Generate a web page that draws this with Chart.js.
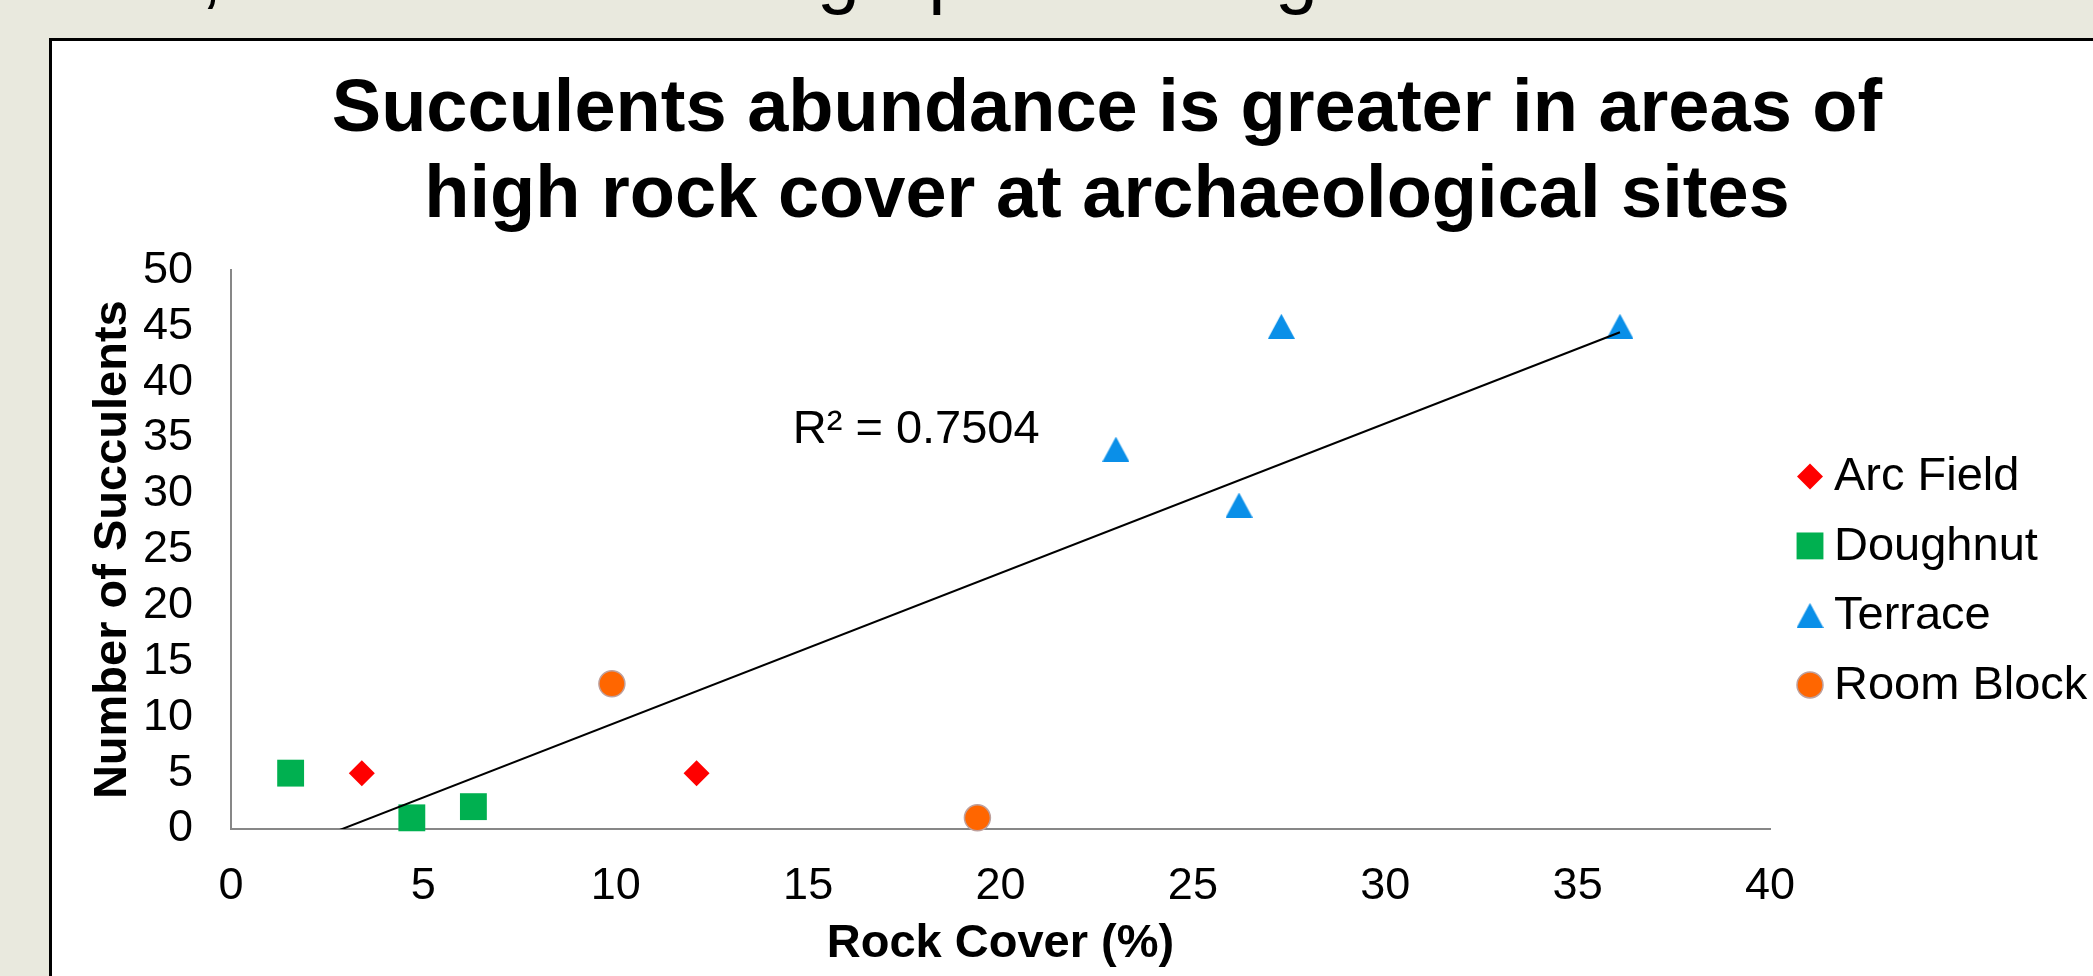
<!DOCTYPE html>
<html>
<head>
<meta charset="utf-8">
<script src="https://cdn.jsdelivr.net/npm/chart.js@4.4.0/dist/chart.umd.min.js"></script>
<style>
  html, body { margin: 0; padding: 0; width: 2093px; height: 976px; overflow: hidden; background: #e9e9de; }
  #lead { position: absolute; left: -56px; top: -66px; font: 77px/1 'Liberation Sans', Arial, sans-serif; color: #000; white-space: nowrap; }
  #panel { position: absolute; left: 49px; top: 38px; width: 2100px; height: 1000px; background: #fff; border-top: 3px solid #000; border-left: 3px solid #000; }
  #c { position: absolute; left: 0; top: 0; }
</style>
</head>
<body>
<div id="lead">Results, the scatter chart graph showing the trend</div>
<div id="panel"></div>
<canvas id="c" width="2214" height="976"></canvas>
<script>
// values
const arcX = [3.4, 12.1];
const arcY = [5, 5];
const doughnutX = [1.55, 4.7, 6.3];
const doughnutY = [5, 1, 2];
const terraceX = [23.0, 26.2, 27.3, 36.1];
const terraceY = [34, 29, 45, 45];
const roomX = [9.9, 19.4];
const roomY = [13, 1];

const xTicks = [0, 5, 10, 15, 20, 25, 30, 35, 40];
const yTicks = [0, 5, 10, 15, 20, 25, 30, 35, 40, 45, 50];

const seriesNames = ['Arc Field', 'Doughnut', 'Terrace', 'Room Block'];
const titleLines = ['Succulents abundance is greater in areas of', 'high rock cover at archaeological sites'];
const r2Label = 'R\u00b2 = 0.7504';

const FONT = "'Liberation Sans', Arial, sans-serif";
Chart.defaults.font.family = FONT;
Chart.defaults.color = '#000';

function pts(xs, ys) {
    return xs.map((x, i) => ({x: x, y: ys[i]}));
}

// least squares line through every point, like the Excel trendline
function linearFit(xs, ys) {
    const n = xs.length;
    const mx = xs.reduce((a, b) => a + b, 0) / n;
    const my = ys.reduce((a, b) => a + b, 0) / n;
    let sxy = 0, sxx = 0;
    for (let i = 0; i < n; i++) {
        sxy += (xs[i] - mx) * (ys[i] - my);
        sxx += (xs[i] - mx) * (xs[i] - mx);
    }
    const b = sxy / sxx;
    return {a: my - b * mx, b: b};
}

const allX = [].concat(arcX, doughnutX, terraceX, roomX);
const allY = [].concat(arcY, doughnutY, terraceY, roomY);
const fit = linearFit(allX, allY);
const xLo = Math.min(...allX), xHi = Math.max(...allX);

// Excel style triangle: centred on its box, about as tall as wide
function triangleMarker(color) {
    const c = document.createElement('canvas');
    c.width = 27;
    c.height = 25;
    const g = c.getContext('2d');
    g.fillStyle = color;
    g.beginPath();
    g.moveTo(13.5, 0);
    g.lineTo(27, 25);
    g.lineTo(0, 25);
    g.closePath();
    g.fill();
    return c;
}

const sideLegend = {
    id: 'sideLegend',
    afterDraw(chart) {
        const ctx = chart.ctx;
        const area = chart.chartArea;
        ctx.save();
        ctx.font = '47px ' + FONT;
        ctx.textBaseline = 'middle';
        ctx.textAlign = 'left';
        let k = 0;
        chart.data.datasets.forEach(ds => {
            if (!ds.inLegend) return;
            const y = area.top + 206 + k * 69.5;
            const mx = area.right + 40;
            ctx.fillStyle = ds.backgroundColor;
            ctx.strokeStyle = ds.borderColor || ds.backgroundColor;
            ctx.lineWidth = ds.borderWidth || 0;
            Chart.helpers.drawPoint(ctx, {
                pointStyle: ds.pointStyle,
                radius: ds.pointRadius,
                rotation: 0,
                borderWidth: ds.borderWidth || 0
            }, mx, y);
            ctx.fillStyle = '#000';
            ctx.fillText(ds.label, area.right + 64, y + 1);
            k++;
        });
        ctx.restore();
    }
};

const r2Text = {
    id: 'r2Text',
    afterDatasetsDraw(chart) {
        const ctx = chart.ctx;
        const xs = chart.scales.x, ys = chart.scales.y;
        ctx.save();
        ctx.font = '47px ' + FONT;
        ctx.fillStyle = '#000';
        ctx.textAlign = 'left';
        ctx.textBaseline = 'alphabetic';
        ctx.fillText(r2Label, xs.getPixelForValue(14.6), ys.getPixelForValue(34.55));
        ctx.restore();
    }
};

const ctx = document.getElementById('c').getContext('2d');
new Chart(ctx, {
    type: 'scatter',
    data: {
        datasets: [{
            label: 'trend',
            type: 'line',
            data: [{x: xLo, y: fit.a + fit.b * xLo}, {x: xHi, y: fit.a + fit.b * xHi}],
            borderColor: '#000',
            borderWidth: 2,
            pointRadius: 0,
            showLine: true,
            fill: false
        }, {
            label: seriesNames[0],
            inLegend: true,
            data: pts(arcX, arcY),
            pointStyle: 'rectRot',
            pointRadius: 13,
            backgroundColor: '#ff0000',
            borderWidth: 0,
            clip: false
        }, {
            label: seriesNames[1],
            inLegend: true,
            data: pts(doughnutX, doughnutY),
            pointStyle: 'rect',
            pointRadius: 19,
            backgroundColor: '#00b050',
            borderWidth: 0,
            clip: false
        }, {
            label: seriesNames[2],
            inLegend: true,
            data: pts(terraceX, terraceY),
            pointStyle: triangleMarker('#0a8fe8'),
            pointRadius: 14,
            backgroundColor: '#0a8fe8',
            borderWidth: 0,
            clip: false
        }, {
            label: seriesNames[3],
            inLegend: true,
            data: pts(roomX, roomY),
            pointStyle: 'circle',
            pointRadius: 13,
            backgroundColor: '#ff6600',
            borderColor: '#bfa09c',
            borderWidth: 1.5,
            clip: false
        }]
    },
    options: {
        responsive: false,
        animation: false,
        devicePixelRatio: 1,
        layout: { padding: 0 },
        plugins: {
            legend: { display: false },
            tooltip: { enabled: false },
            title: {
                display: true,
                text: titleLines,
                color: '#000',
                font: { size: 74, weight: 'bold', lineHeight: 1.165 },
                padding: { top: 67, bottom: 31 }
            }
        },
        scales: {
            x: {
                type: 'linear',
                position: 'bottom',
                min: xTicks[0],
                max: xTicks[xTicks.length - 1],
                ticks: { stepSize: xTicks[1] - xTicks[0], autoSkip: false, padding: 31, font: { size: 45 }, color: '#000', maxRotation: 0 },
                grid: { display: false, drawTicks: false },
                border: { display: true, color: '#878787', width: 2 },
                title: { display: true, text: 'Rock Cover (%)', color: '#000', font: { size: 47, weight: 'bold' }, padding: { top: 0, bottom: 4 } },
                afterFit: s => { s.height = 147; }
            },
            y: {
                type: 'linear',
                position: 'left',
                min: yTicks[0],
                max: yTicks[yTicks.length - 1],
                ticks: { stepSize: yTicks[1] - yTicks[0], autoSkip: false, padding: 38, font: { size: 45 }, color: '#000' },
                grid: { display: false, drawTicks: false },
                border: { display: true, color: '#878787', width: 2 },
                title: { display: true, text: 'Number of Succulents', color: '#000', font: { size: 47, weight: 'bold' }, padding: { top: 85, bottom: 0 } },
                afterFit: s => { s.width = 231; }
            },
            // empty column on the right that holds the legend
            side: {
                type: 'linear',
                position: 'right',
                min: 0,
                max: 1,
                ticks: { display: false },
                grid: { display: false, drawTicks: false },
                border: { display: false },
                afterFit: s => { s.width = 444; }
            }
        }
    },
    plugins: [sideLegend, r2Text]
});
</script>
</body>
</html>
